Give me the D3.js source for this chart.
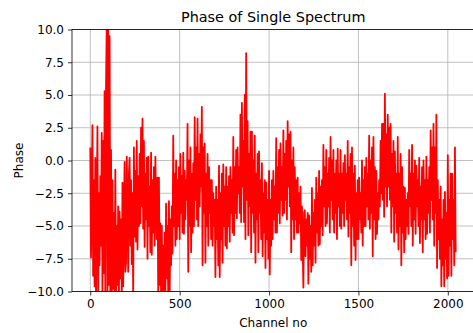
<!DOCTYPE html>
<html>
<head>
<meta charset="utf-8">
<script src="https://cdn.jsdelivr.net/npm/d3@7/dist/d3.min.js"></script>
<style>
  html, body { margin: 0; padding: 0; background: #fff; }
  svg { display: block; font-family: "DejaVu Sans", sans-serif; }
</style>
</head>
<body>
<div id="chart"></div>
<script>
// Phase (radians-ish units) of one spectrum, sampled every 4 channels.
const phase = [
  1.0, -7.4, -3.0, 2.7, -8.8,
  -1.5, -9.6, 0.2, -10.5, -4.0,
  2.6, -10.5, -2.5, -8.0, -1.2,
  -6.5, 2.1, -10.4, 1.5, -8.6,
  5.3, -10.5, 5.7, 10.5, -10.2,
  10.4, -9.5, 9.5, -10.5, 0.8,
  -10.5, -1.5, -9.8, -4.0, -10.3,
  -0.7, -10.4, -5.0, -9.5, -3.5,
  -10.5, -3.9, -9.0, -4.5, -10.2,
  -1.7, -9.6, -4.5, -0.1, -8.5,
  -7.8, 0.3, -4.0, -8.5, -1.0,
  0.2, -6.5, -1.5, -7.9, -2.5,
  -10.2, 1.0, -5.8, -0.8, -6.2,
  1.5, -6.8, -1.2, -5.0, 0.5,
  -4.8, 2.5, -3.5, 3.2, -5.2,
  1.5, -6.6, -1.0, -4.5, 0.2,
  -7.5, 0.3, -5.0, -2.0, -7.0,
  0.6, -7.2, -1.5, -5.5, -0.5,
  -6.5, 0.3, -3.5, -6.0, -1.3,
  -10.2, -1.3, -9.5, -4.8, -10.4,
  -5.0, -10.5, -6.5, -10.3, -5.5,
  -10.4, -3.3, -9.0, -5.0, -10.5,
  -3.1, -10.3, -4.5, -8.0, -3.5,
  -7.1, 1.9, -5.0, -1.0, -6.5,
  0.0, -6.0, -1.5, -5.0, -0.5,
  -6.0, 0.5, -4.0, -1.2, -5.5,
  0.6, -5.6, -0.8, -4.5, -1.5,
  -3.0, 2.8, -8.5, 0.0, -5.0,
  1.0, -7.0, -1.0, -5.5, -0.2,
  -5.0, 3.3, -3.0, 1.0, -4.5,
  3.2, -5.0, 0.5, -3.5, 2.0,
  -2.0, 4.1, -8.0, 1.0, -4.0,
  1.3, -7.8, -1.0, -5.0, 0.5,
  -6.5, -0.5, -4.0, -1.5, -6.0,
  -1.5, -6.5, -2.5, -5.0, -3.0,
  -8.9, -2.0, -6.0, -3.0, -8.0,
  -0.4, -8.9, -2.5, -6.0, -1.0,
  -7.8, -0.3, -5.0, -2.0, -6.5,
  -0.5, -6.7, -2.0, -5.0, -1.2,
  -6.2, -0.5, -4.0, -1.5, -5.5,
  1.8, -5.7, -0.5, -4.0, 0.8,
  -4.4, 1.0, -2.5, -0.5, -4.0,
  3.5, -4.7, 4.4, -2.0, 1.5,
  -4.7, 5.0, -6.0, 8.2, -3.0,
  3.0, -5.7, 0.5, -3.5, 2.2,
  -7.0, 2.2, -4.0, 0.0, -5.5,
  1.9, -7.8, -1.0, -4.5, 0.5,
  -7.0, 0.7, -4.0, -1.5, -6.0,
  -0.2, -7.3, -2.5, -5.5, -1.5,
  -8.2, -1.7, -6.0, -3.0, -7.5,
  -0.8, -8.7, -3.0, -6.5, -1.5,
  -6.0, -0.8, -4.5, -2.0, -5.5,
  1.7, -5.5, -0.5, -4.0, 0.8,
  -4.8, 1.3, -3.0, -0.5, -4.2,
  2.3, -4.0, 0.5, -3.0, 1.5,
  -4.5, 3.0, -2.0, 2.0, -3.5,
  2.2, -7.0, 0.0, -4.5, 1.0,
  -6.0, -0.5, -4.5, -1.5, -5.5,
  -1.3, -5.5, -2.5, -4.8, -2.0,
  -7.6, -3.5, -6.5, -9.7, -4.0,
  -3.8, -7.3, -4.5, -6.5, -4.0,
  -9.4, -4.2, -7.5, -5.0, -8.5,
  -2.1, -8.0, -4.0, -6.5, -3.0,
  -7.8, -1.3, -5.5, -2.5, -6.5,
  -0.8, -6.4, -2.0, -5.0, -1.5,
  -5.7, 1.2, -3.5, -0.5, -5.0,
  0.8, -4.8, -1.0, -3.5, 0.2,
  -5.5, 1.8, -3.0, 0.0, -4.5,
  0.8, -5.5, -1.0, -4.0, 0.0,
  -6.0, 0.9, -3.5, -1.0, -5.0,
  0.8, -5.2, -1.0, -4.0, -0.2,
  -5.0, 0.4, -3.0, -1.0, -4.5,
  1.5, -5.8, -0.5, -4.0, 0.5,
  -8.0, 1.0, -5.0, -1.0, -6.5,
  -0.4, -7.6, -2.5, -6.0, -1.5,
  -6.0, -1.3, -4.5, -2.5, -5.5,
  0.0, -6.5, -1.5, -5.0, -0.5,
  -5.0, 0.2, -3.5, -1.0, -4.5,
  1.9, -5.2, 0.0, -4.0, 1.0,
  -7.3, 1.8, -4.5, -0.5, -6.0,
  -0.8, -5.6, -2.5, -4.5, -1.5,
  -3.5, 1.5, -2.5, 2.8, -3.0,
  2.8, -4.3, 5.1, -2.0, 2.0,
  -3.5, 3.5, -2.0, 2.5, -3.0,
  2.8, -5.5, 0.5, -3.5, 1.5,
  -6.2, 0.7, -4.0, -1.0, -5.5,
  1.8, -6.8, -1.0, -5.0, 0.5,
  -8.0, -0.5, -5.5, -2.0, -7.0,
  -2.1, -6.0, -3.0, -5.0, -2.5,
  -5.6, 0.8, -3.5, -1.0, -5.0,
  1.2, -6.5, -1.0, -4.5, 0.0,
  -5.6, -0.4, -3.5, -1.5, -5.0,
  0.2, -6.3, -2.0, -4.5, -0.5,
  -7.0, 0.0, -4.5, -1.5, -6.0,
  0.3, -5.6, -1.5, -4.0, -0.5,
  -5.5, 2.3, -3.0, 1.0, -4.5,
  2.8, -6.5, 1.0, -4.0, 3.5,
  -8.2, -1.5, -6.0, -3.0, -7.5,
  -2.0, -9.6, -4.5, -8.0, -3.0,
  -9.6, -2.4, -7.5, -4.0, -9.0,
  0.4, -8.8, -3.0, -6.5, -1.0,
  -8.8, -1.0, -6.0, -3.0, -8.0,
  1.0, -7.0
];
const channelStep = 4;
const channels = phase.map((_, i) => i * channelStep);

const xTicks = [0, 500, 1000, 1500, 2000];
const yTicks = [-10, -7.5, -5, -2.5, 0, 2.5, 5, 7.5, 10];
const xDomain = [-102.35, 2149.35];
const yDomain = [-10, 10];

const W = 473, H = 333;
const plot = { left: 72, top: 29.5, right: 474.5, bottom: 291.5 };

const svg = d3.select("#chart").append("svg")
  .attr("width", W).attr("height", H);
svg.append("rect").attr("width", W).attr("height", H).attr("fill", "#fff");

const x = d3.scaleLinear().domain(xDomain).range([plot.left, plot.right]);
const y = d3.scaleLinear().domain(yDomain).range([plot.bottom, plot.top]);

// grid
const grid = svg.append("g").attr("stroke", "#b0b0b0").attr("stroke-width", 0.8);
grid.selectAll("line.gx").data(xTicks).join("line")
  .attr("x1", d => x(d)).attr("x2", d => x(d))
  .attr("y1", plot.top).attr("y2", plot.bottom);
grid.selectAll("line.gy").data(yTicks).join("line")
  .attr("x1", plot.left).attr("x2", plot.right)
  .attr("y1", d => y(d)).attr("y2", d => y(d));

// phase trace, clipped to the axes box
svg.append("clipPath").attr("id", "clip").append("rect")
  .attr("x", plot.left).attr("y", plot.top)
  .attr("width", plot.right - plot.left).attr("height", plot.bottom - plot.top);

const line = d3.line().x((d, i) => x(channels[i])).y(d => y(d));
svg.append("path")
  .datum(phase)
  .attr("clip-path", "url(#clip)")
  .attr("fill", "none")
  .attr("stroke", "#ff0000")
  .attr("stroke-width", 1.8)
  .attr("stroke-linejoin", "round")
  .attr("d", line);

// axes
const fontSize = "12px";
const xAxis = svg.append("g")
  .attr("transform", `translate(0,${plot.bottom})`)
  .call(d3.axisBottom(x).tickValues(xTicks).tickFormat(d3.format("d"))
    .tickSizeInner(4).tickSizeOuter(0).tickPadding(4));
const yAxis = svg.append("g")
  .attr("transform", `translate(${plot.left},0)`)
  .call(d3.axisLeft(y).tickValues(yTicks).tickFormat(d => d3.format(".1f")(d).replace("-", "\u2212"))
    .tickSizeInner(4).tickSizeOuter(0).tickPadding(4));
[xAxis, yAxis].forEach(g => {
  g.select(".domain").remove();
  g.selectAll(".tick line").attr("stroke", "#000").attr("stroke-width", 0.8);
  g.selectAll(".tick text").attr("fill", "#000")
    .style("font-size", fontSize).style("font-family", "DejaVu Sans");
});

// spines
const spines = svg.append("g").attr("stroke", "#000").attr("stroke-width", 0.8).attr("fill", "none");
spines.append("rect")
  .attr("x", plot.left).attr("y", plot.top)
  .attr("width", plot.right - plot.left).attr("height", plot.bottom - plot.top);

// labels
svg.append("text")
  .attr("x", (plot.left + plot.right) / 2).attr("y", 21.5)
  .attr("text-anchor", "middle")
  .style("font-size", "14.4px")
  .text("Phase of Single Spectrum");

svg.append("text")
  .attr("x", (plot.left + plot.right) / 2).attr("y", 326.5)
  .attr("text-anchor", "middle")
  .style("font-size", fontSize)
  .text("Channel no");

svg.append("text")
  .attr("transform", `translate(22.5,${(plot.top + plot.bottom) / 2}) rotate(-90)`)
  .attr("text-anchor", "middle")
  .style("font-size", fontSize)
  .text("Phase");
</script>
</body>
</html>
